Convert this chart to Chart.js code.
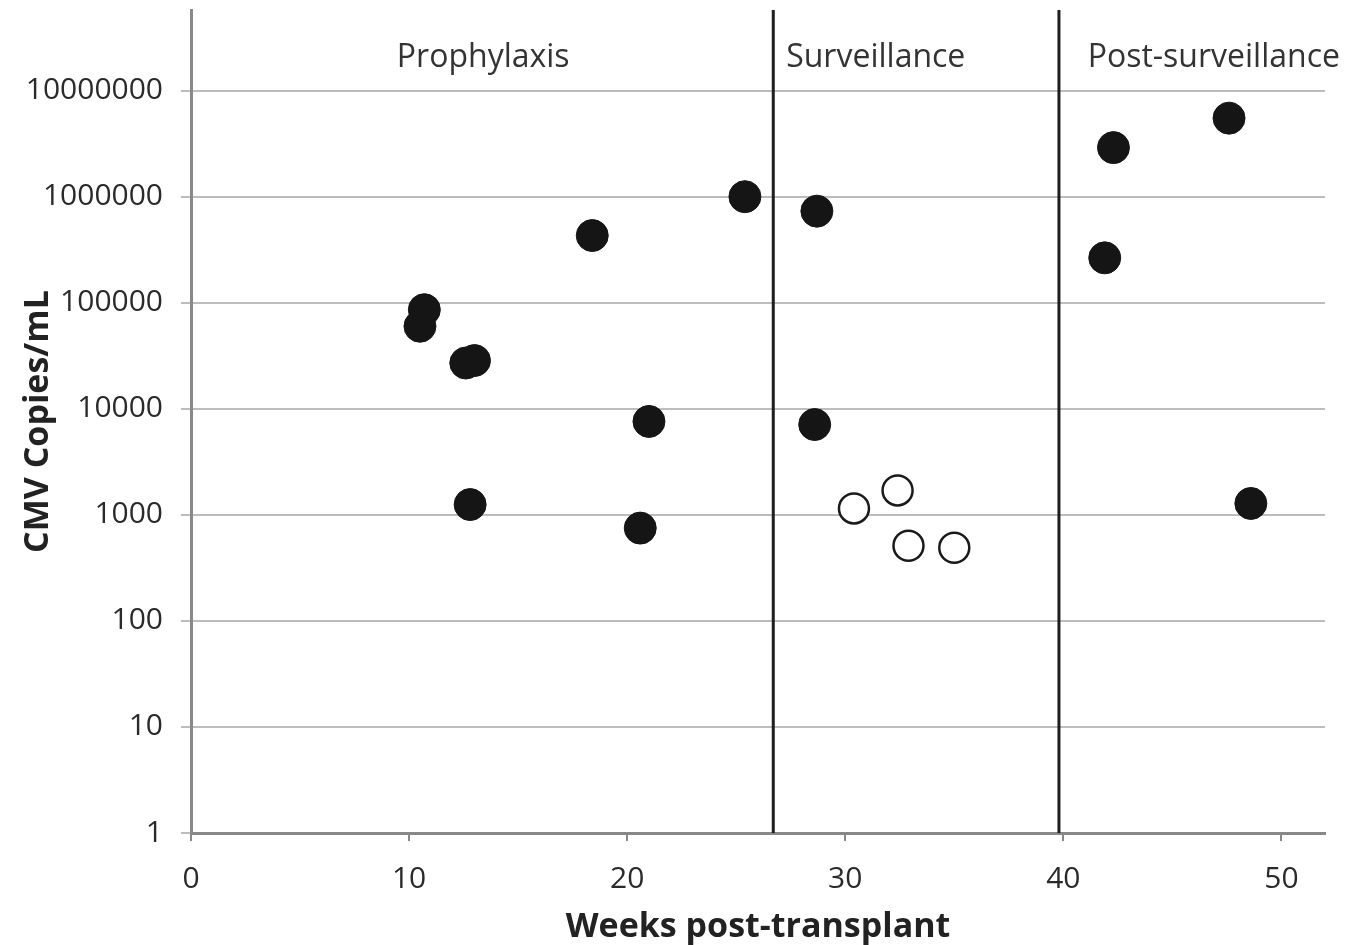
<!DOCTYPE html>
<html>
<head>
<meta charset="utf-8">
<script src="https://cdn.jsdelivr.net/npm/chart.js@4.4.1/dist/chart.umd.min.js"></script>
<style>
  html, body { margin: 0; padding: 0; background: #fff; }
  #wrap { width: 1350px; height: 945px; }
</style>
</head>
<body>
<div id="wrap"><canvas id="cmvChart" width="1350" height="945"></canvas></div>
<script>
// filled = treated episodes, open = surveillance-only
const filledX = [10.7, 10.5, 12.6, 13.0, 18.4, 25.4, 28.7, 21.0, 28.6, 12.8, 20.6, 42.3, 47.6, 41.9, 48.6];
const filledY = [86000, 60000, 27000, 28500, 430000, 1000000, 730000, 7600, 7100, 1250, 750, 2900000, 5500000, 265000, 1280];
const openX = [30.4, 32.4, 32.9, 35.0];
const openY = [1150, 1700, 510, 490];

const phaseBounds = [26.7, 39.8];
const phaseNames = ['Prophylaxis', 'Surveillance', 'Post-surveillance'];
const phaseLabelX = [13.4, 31.4, 46.9];

const xTicks = [0, 10, 20, 30, 40, 50];
const yTicks = [1, 10, 100, 1000, 10000, 100000, 1000000, 10000000];
const yTop = Math.pow(10, 7.76);

const FONT = '"Open Sans", "DejaVu Sans", sans-serif';

function pts(xs, ys) {
  return xs.map(function(x, i) { return { x: x, y: ys[i] }; });
}

const boundSets = phaseBounds.map(function(b) {
  return {
    type: 'line',
    data: [{ x: b, y: 1 }, { x: b, y: yTop }],
    borderColor: '#1e1e1e',
    borderWidth: 3,
    pointRadius: 0,
    fill: false
  };
});

// region names above the plot
const phaseLabels = {
  id: 'phaseLabels',
  afterDatasetsDraw: function(chart) {
    const ctx = chart.ctx;
    const xs = chart.scales.x;
    ctx.save();
    ctx.font = '32px ' + FONT;
    ctx.fillStyle = '#333';
    ctx.textAlign = 'center';
    ctx.textBaseline = 'middle';
    phaseNames.forEach(function(name, i) {
      ctx.fillText(name, xs.getPixelForValue(phaseLabelX[i]), chart.chartArea.top + 48);
    });
    ctx.restore();
  }
};

new Chart(document.getElementById('cmvChart').getContext('2d'), {
  type: 'scatter',
  data: {
    datasets: [
      {
        data: pts(filledX, filledY),
        backgroundColor: '#151515',
        borderColor: '#151515',
        borderWidth: 1,
        pointRadius: 16,
        pointHoverRadius: 16
      },
      {
        data: pts(openX, openY),
        backgroundColor: '#ffffff',
        borderColor: '#1a1a1a',
        borderWidth: 2.5,
        pointRadius: 15,
        pointHoverRadius: 15
      }
    ].concat(boundSets)
  },
  options: {
    responsive: false,
    animation: false,
    layout: { autoPadding: false, padding: { top: 10, right: 25, left: 18, bottom: 0 } },
    plugins: {
      legend: { display: false },
      tooltip: { enabled: false }
    },
    scales: {
      x: {
        type: 'linear',
        min: 0,
        max: 52,
        afterBuildTicks: function(s) { s.ticks = xTicks.map(function(v) { return { value: v }; }); },
        afterFit: function(s) { s.height = 112; s.paddingLeft = 0; s.paddingRight = 0; },
        grid: { drawOnChartArea: false, drawTicks: true, tickLength: 8, color: '#888', lineWidth: 2 },
        border: { color: '#888', width: 3 },
        ticks: { color: '#2a2a2a', font: { family: FONT, size: 30 }, padding: 20, maxRotation: 0 },
        title: {
          display: true,
          text: 'Weeks post-transplant',
          color: '#222',
          font: { family: FONT, size: 34, weight: 'bold' },
          padding: { top: 0, bottom: -3 }
        }
      },
      y: {
        type: 'logarithmic',
        min: 1,
        max: yTop,
        afterBuildTicks: function(s) { s.ticks = yTicks.map(function(v) { return { value: v }; }); },
        afterFit: function(s) { s.width = 173; s.paddingTop = 0; s.paddingBottom = 0; },
        grid: { color: '#bdbdbd', lineWidth: 2, drawTicks: true, tickLength: 10 },
        border: { color: '#888', width: 3 },
        ticks: {
          color: '#2a2a2a',
          font: { family: FONT, size: 30 },
          padding: 18,
          callback: function(v) { return String(v); }
        },
        title: {
          display: true,
          text: 'CMV Copies/mL',
          color: '#222',
          font: { family: FONT, size: 34, weight: 'bold' },
          padding: { top: 0, bottom: 0 }
        }
      }
    }
  },
  plugins: [phaseLabels]
});
</script>
</body>
</html>
